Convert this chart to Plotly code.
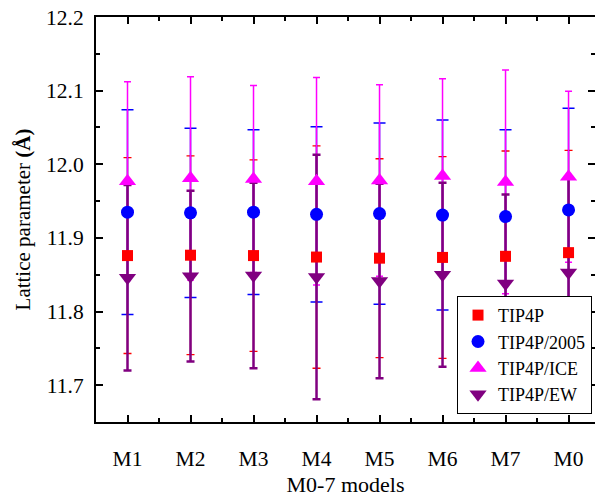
import plotly.graph_objects as go

categories = ["M1", "M2", "M3", "M4", "M5", "M6", "M7", "M0"]
series_names = ["TIP4P", "TIP4P/2005", "TIP4P/ICE", "TIP4P/EW"]

tip4p = [11.876, 11.8765, 11.876, 11.874, 11.8725, 11.8735, 11.875, 11.880]
tip4p_err = [0.133, 0.135, 0.130, 0.151, 0.135, 0.137, 0.143, 0.139]
tip4p2005 = [11.935, 11.934, 11.935, 11.932, 11.933, 11.931, 11.929, 11.938]
tip4p2005_err = [0.139, 0.115, 0.112, 0.119, 0.123, 0.129, 0.118, 0.138]
tip4pice = [11.977, 11.981, 11.980, 11.977, 11.978, 11.984, 11.976, 11.983]
tip4pice_err = [0.135, 0.138, 0.127, 0.141, 0.130, 0.132, 0.152, 0.116]
tip4pew = [11.846, 11.848, 11.849, 11.847, 11.8415, 11.850, 11.838, 11.853]
tip4pew_err = [0.126, 0.116, 0.126, 0.166, 0.132, 0.125, 0.121, 0.130]

values = [tip4p, tip4p2005, tip4pice, tip4pew]
errors = [tip4p_err, tip4p2005_err, tip4pice_err, tip4pew_err]
colors = ["#FF0000", "#0000FF", "#FF00FF", "#800080"]
symbols = ["square", "circle", "triangle-up", "triangle-down"]
msizes = [11, 13, 15, 15]
err_thick = [1.3, 1.5, 1.5, 2.5]
err_width = [4, 6, 3.5, 4]

x = list(range(len(categories)))
FONT = "Liberation Serif, Times New Roman, Times, serif"

fig = go.Figure()
for v, e, c, t, w in zip(values, errors, colors, err_thick, err_width):
    fig.add_trace(go.Scatter(
        x=x, y=v, mode="markers",
        marker=dict(size=1, color="rgba(0,0,0,0)"),
        error_y=dict(type="data", array=e, symmetric=True, color=c,
                     thickness=t, width=w),
        showlegend=False, hoverinfo="skip"))
for v, n, c, s, ms in zip(values, series_names, colors, symbols, msizes):
    fig.add_trace(go.Scatter(
        x=x, y=v, mode="markers", name=n,
        marker=dict(symbol=s, size=ms, color=c, line=dict(width=0))))

fig.update_layout(
    width=595, height=497,
    margin=dict(l=96, r=0, t=17, b=75, autoexpand=False),
    paper_bgcolor="white", plot_bgcolor="white",
    font=dict(family=FONT, size=21, color="black"),
    legend=dict(x=0.994, y=0.02, xanchor="right", yanchor="bottom",
                bgcolor="white", bordercolor="black", borderwidth=1,
                font=dict(family=FONT, size=18), tracegroupgap=0,
                itemsizing="trace"),
)
fig.update_xaxes(
    automargin=False,
    range=[-0.5, 7.42], tickmode="array", tickvals=x, ticktext=categories,
    showgrid=False, zeroline=False,
    showline=True, linecolor="black", linewidth=2, mirror="ticks",
    ticks="inside", ticklen=7, tickwidth=1.5, tickcolor="black",
    ticklabelstandoff=16,
    minor=dict(tickvals=[i + 0.5 for i in range(-1, 8)], ticks="inside",
               ticklen=4, tickwidth=1.5, tickcolor="black", showgrid=False),
    tickfont=dict(family=FONT, size=21.5),
    title=dict(text="M0-7 models", font=dict(family=FONT, size=22), standoff=13),
)
fig.update_yaxes(
    automargin=False,
    range=[11.65, 12.2], tickmode="linear", tick0=11.7, dtick=0.1,
    tickformat=".1f",
    showgrid=False, zeroline=False,
    showline=True, linecolor="black", linewidth=2, mirror="ticks",
    ticks="inside", ticklen=7, tickwidth=1.5, tickcolor="black",
    ticklabelstandoff=6,
    minor=dict(dtick=0.05, ticks="inside", ticklen=4, tickwidth=1.5,
               tickcolor="black", showgrid=False),
    tickfont=dict(family=FONT, size=21.5),
    title=dict(text="Lattice parameter <b>(Å)</b>", font=dict(family=FONT, size=21),
               standoff=10),
)

fig.write_html("out.html", config={"displayModeBar": False},
               post_script="document.body.style.margin='0';document.body.style.overflow='hidden';")
